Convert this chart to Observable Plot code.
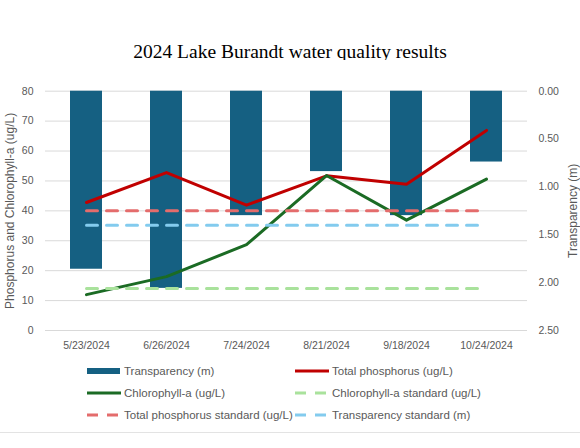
<!DOCTYPE html>
<html>
<head>
<meta charset="utf-8">
<script src="https://cdn.jsdelivr.net/npm/d3@7"></script>
<script src="https://cdn.jsdelivr.net/npm/@observablehq/plot@0.6"></script>
<style>
  body { margin: 0; background: #fff; }
  #wrap { position: relative; width: 580px; height: 448px; overflow: hidden; font-family: "Liberation Sans", Arial, sans-serif; }
  #title { position: absolute; left: 0; top: 42px; width: 580px; text-align: center; font-family: "Liberation Serif", "Times New Roman", serif; font-size: 19.5px; line-height: 20px; color: #000; }
  #chart { position: absolute; left: 0; top: 60px; }
  .rule { position: absolute; left: 0; width: 580px; height: 1px; background: #e3e3e3; }
  .item { position: absolute; height: 14px; font-size: 11.5px; color: #595959; white-space: nowrap; }
  .item svg { position: absolute; left: 0; top: 0; }
  .item span { position: absolute; left: 37px; top: 0; line-height: 14px; }
</style>
</head>
<body>
<div id="wrap">
  <div class="rule" style="top:76px"></div>
  <div id="title">2024 Lake Burandt water quality results</div>
  <div id="chart"></div>
  <div id="legend"></div>
  <div class="rule" style="top:432px"></div>
</div>
<script>
const dates = ['5/23/2024', '6/26/2024', '7/24/2024', '8/21/2024', '9/18/2024', '10/24/2024']
const transparency = [1.86, 2.06, 1.30, 0.84, 1.30, 0.74]
const phosphorus = [42.8, 52.8, 41.9, 51.7, 48.9, 66.9]
const chlorophyll = [12.0, 18.0, 28.7, 51.8, 36.9, 50.6]
const phosphorusStandard = 40
const chlorophyllStandard = 14
const transparencyStandard = 1.4
const leftTicks = [0, 10, 20, 30, 40, 50, 60, 70, 80]
const rightTicks = [0, 0.5, 1, 1.5, 2, 2.5]
const legendItems = [
  {label: 'Transparency (m)', color: '#156082', kind: 'bar'},
  {label: 'Total phosphorus (ug/L)', color: '#C00000', kind: 'line'},
  {label: 'Chlorophyll-a (ug/L)', color: '#1B6B24', kind: 'line'},
  {label: 'Chlorophyll-a standard (ug/L)', color: '#A9E29C', kind: 'dash'},
  {label: 'Total phosphorus standard (ug/L)', color: '#E46C6C', kind: 'dash'},
  {label: 'Transparency standard (m)', color: '#83CBEE', kind: 'dash'},
]

// transparency axis is reversed: 0 m at top (80), 2.5 m at bottom (0)
const leftMax = 80, rightMax = 2.5
const toLeft = t => leftMax * (1 - t / rightMax)
const fromLeft = v => (1 - v / leftMax) * rightMax

const rows = dates.map((d, i) => ({
  date: d,
  transparency: transparency[i],
  phosphorus: phosphorus[i],
  chlorophyll: chlorophyll[i]
}))

const dash = {strokeWidth: 3, strokeDasharray: '11,9'}

let chart = Plot.plot({
  width: 580,
  height: 300,
  marginTop: 30.7,
  marginBottom: 30,
  marginLeft: 45,
  marginRight: 53,
  x: {type: 'band', domain: dates, padding: 0},
  y: {domain: [0, leftMax]},
  style: {fontFamily: '"Liberation Sans", Arial, sans-serif', fontSize: '10.5px', color: '#595959', background: 'white'},
  marks: [
    Plot.gridY(leftTicks, {stroke: '#d9d9d9', strokeOpacity: 1}),
    Plot.barY(rows, {
      x: 'date',
      y1: d => toLeft(0),
      y2: d => toLeft(d.transparency),
      fill: '#156082',
      insetLeft: 24,
      insetRight: 24
    }),
    Plot.line(rows, {x: 'date', y: 'phosphorus', stroke: '#C00000', strokeWidth: 3}),
    Plot.line(rows, {x: 'date', y: 'chlorophyll', stroke: '#1B6B24', strokeWidth: 3}),
    Plot.line(dates, {x: d => d, y: d => chlorophyllStandard, stroke: '#A9E29C', ...dash}),
    Plot.line(dates, {x: d => d, y: d => phosphorusStandard, stroke: '#E46C6C', ...dash}),
    Plot.line(dates, {x: d => d, y: d => toLeft(transparencyStandard), stroke: '#83CBEE', ...dash}),
    Plot.axisX({tickSize: 0, tickPadding: 11, label: null}),
    Plot.axisY(leftTicks, {anchor: 'left', tickSize: 0, tickPadding: 12, label: null}),
    Plot.axisY(rightTicks.map(toLeft), {
      anchor: 'right', tickSize: 0, tickPadding: 11, label: null,
      tickFormat: v => fromLeft(v).toFixed(2)
    }),
    Plot.text(['Phosphorus and Chlorophyll-a (ug/L)'], {
      frameAnchor: 'left', textAnchor: 'middle', dx: -35, rotate: -90, text: d => d, fontSize: 12
    }),
    Plot.text(['Transparency (m)'], {
      frameAnchor: 'right', textAnchor: 'middle', dx: 46, rotate: -90, text: d => d, fontSize: 12
    }),
  ]
})
d3.select('#chart').append(() => chart)

// legend, two columns
const cols = [87, 295], rowsY = [371, 393, 415]
const legend = d3.select('#legend')
legendItems.forEach((d, i) => {
  const item = legend.append('div')
    .attr('class', 'item')
    .style('left', cols[i % 2] + 'px')
    .style('top', (rowsY[Math.floor(i / 2)] - 7) + 'px')
  const svg = item.append('svg').attr('width', 36).attr('height', 14)
  if (d.kind == 'bar') {
    svg.append('rect').attr('x', 0).attr('y', 4).attr('width', 33).attr('height', 6).attr('fill', d.color)
  } else {
    svg.append('line')
      .attr('x1', 0).attr('x2', 34).attr('y1', 7).attr('y2', 7)
      .attr('stroke', d.color).attr('stroke-width', 3)
      .attr('stroke-dasharray', d.kind == 'dash' ? '11,9' : null)
  }
  item.append('span').text(d.label)
})
</script>
</body>
</html>
